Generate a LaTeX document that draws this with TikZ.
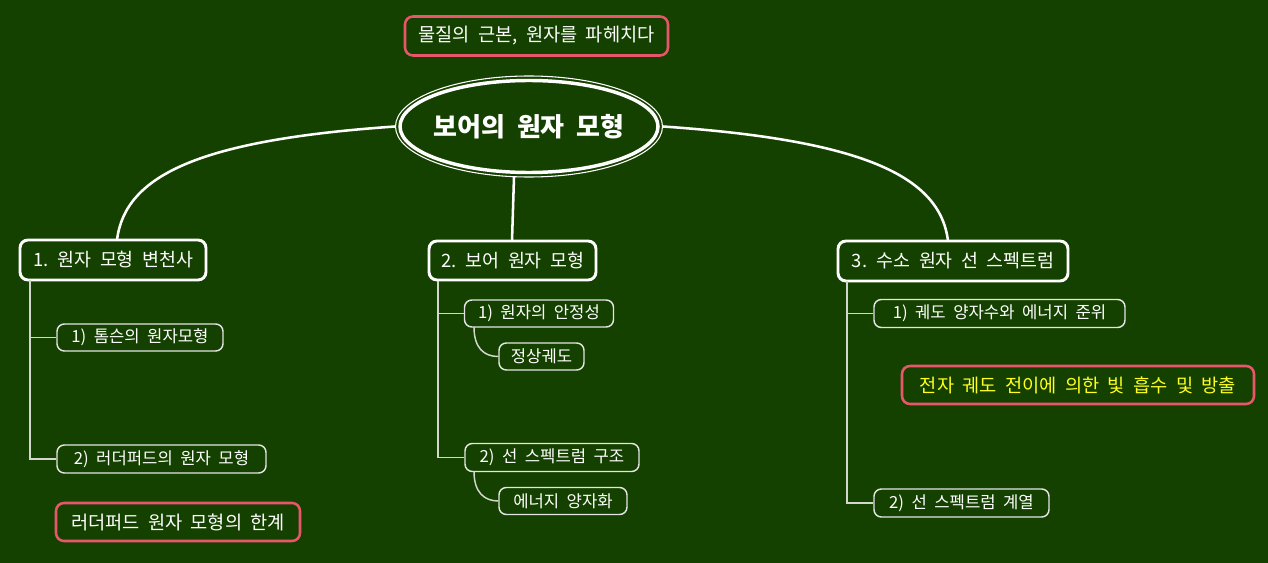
\documentclass[tikz,border=0pt]{standalone}
\usepackage{fontspec}
\setmainfont{Noto Sans CJK KR}[WordSpace=2.0]
\usetikzlibrary{shapes.geometric}
\definecolor{bg}{HTML}{154100}
\definecolor{pinkline}{HTML}{E8566C}
\definecolor{subline}{HTML}{E4E4E4}
\definecolor{treeline}{HTML}{D4D8CC}
\definecolor{noteyellow}{HTML}{FFFF20}
\tikzset{
  mainnode/.style={ellipse, draw=white, line width=2.6pt, inner sep=0pt},
  maintext/.style={text=white, inner sep=0pt, font=\fontsize{19.5}{22}\selectfont\bfseries},
  mainouter/.style={ellipse, draw=white, line width=0.8pt, inner sep=0pt},
  branchbox/.style={rectangle, rounded corners=6pt, draw=white, line width=2.2pt, fill=bg,
    text=white, inner sep=0pt, font=\fontsize{13.8}{15}\selectfont},
  subbox/.style={rectangle, rounded corners=5.5pt, draw=subline, line width=1.1pt, fill=bg,
    text=white, inner sep=0pt, font=\fontsize{12.5}{14}\selectfont},
  notebox/.style={rectangle, rounded corners=6pt, draw=pinkline, line width=1.9pt, fill=bg,
    text=white, inner sep=0pt, font=\fontsize{14}{15}\selectfont},
  maincurve/.style={draw=white, line width=1.9pt},
  treelink/.style={draw=treeline, line width=1.1pt},
}
\begin{document}
\begin{tikzpicture}[x=0.75pt,y=-0.75pt]
\useasboundingbox (0,0) rectangle (1268,563);
\fill[bg] (0,0) rectangle (1268,563);

% top note
\node[notebox, minimum width=263*0.75pt, minimum height=39*0.75pt] (top) at (536.5,36) {물질의 근본, 원자를 파헤치다};

% central topic
\node[mainouter, minimum width=267*0.75pt, minimum height=101*0.75pt] (mainout) at (529,126.5) {};
\node[mainnode, minimum width=258*0.75pt, minimum height=92*0.75pt] (main) at (529,126.5) {};
\node[maintext] (maintitle) at (main.center) {보어의 원자 모형};

% branches
\node[branchbox, minimum width=186*0.75pt, minimum height=40*0.75pt] (b1) at (113,260) {1. 원자 모형 변천사};
\node[branchbox, minimum width=167*0.75pt, minimum height=39*0.75pt] (b2) at (512.5,260.5) {2. 보어 원자 모형};
\node[branchbox, minimum width=230*0.75pt, minimum height=40*0.75pt] (b3) at (953,261) {3. 수소 원자 선 스펙트럼};

% main connectors
\coordinate (c1) at (117,240);
\coordinate (c3) at (948,241);
\coordinate (c2top) at (514,177);
\coordinate (c2) at (512,241);
\draw[maincurve] (mainout.west) .. controls (200,140) and (125,175) .. (c1);
\draw[maincurve] (mainout.east) .. controls (860,140) and (940,175) .. (c3);
\draw[maincurve] (c2top) -- (c2);

% branch 1 children
\node[subbox, minimum width=166*0.75pt, minimum height=27*0.75pt] (s11) at (140,337.5) {1) 톰슨의 원자모형};
\node[subbox, minimum width=209*0.75pt, minimum height=28*0.75pt] (s12) at (161.5,459) {2) 러더퍼드의 원자 모형};
\node[notebox, minimum width=244*0.75pt, minimum height=38*0.75pt] (n1) at (178,522) {러더퍼드 원자 모형의 한계};
\coordinate (t1) at (30,280);
\draw[treelink] (t1) |- (s11.west);
\draw[treelink] (t1) |- (s12.west);

% branch 2 children
\node[subbox, minimum width=149*0.75pt, minimum height=27*0.75pt] (s21) at (539,313.5) {1) 원자의 안정성};
\node[subbox, minimum width=85*0.75pt, minimum height=27*0.75pt] (g21) at (541.5,356.5) {정상궤도};
\node[subbox, minimum width=174*0.75pt, minimum height=28*0.75pt] (s22) at (552,457.5) {2) 선 스펙트럼 구조};
\node[subbox, minimum width=128*0.75pt, minimum height=27*0.75pt] (g22) at (563,501) {에너지 양자화};
\coordinate (t2) at (438,280.5);
\draw[treelink] (t2) |- (s21.west);
\draw[treelink] (t2) |- (s22.west);
\coordinate (u21) at (474,327);
\coordinate (u22) at (474,471.5);
\draw[treelink] (u21) .. controls (474,348) and (484,356.5) .. (g21.west);
\draw[treelink] (u22) .. controls (474,492) and (484,501) .. (g22.west);

% branch 3 children
\node[subbox, minimum width=251*0.75pt, minimum height=28*0.75pt] (s31) at (999.5,313.5) {1) 궤도 양자수와 에너지 준위};
\node[notebox, text=noteyellow, minimum width=352*0.75pt, minimum height=38*0.75pt] (n3) at (1078,385) {전자 궤도 전이에 의한 빛 흡수 및 방출};
\node[subbox, minimum width=175*0.75pt, minimum height=28*0.75pt] (s32) at (961.5,503) {2) 선 스펙트럼 계열};
\coordinate (t3) at (847,281);
\draw[treelink] (t3) |- (s31.west);
\draw[treelink] (t3) |- (s32.west);
\end{tikzpicture}
\end{document}
